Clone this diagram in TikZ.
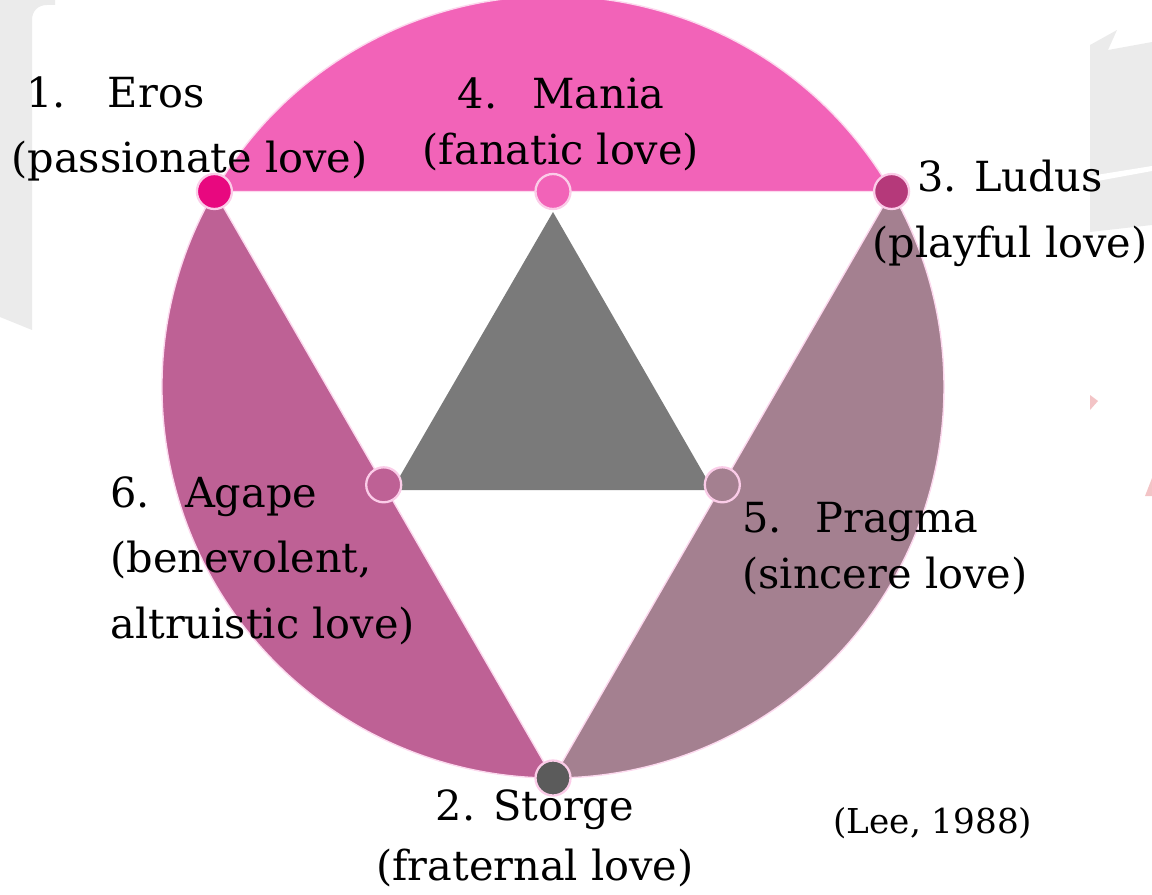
\documentclass[tikz,border=0pt]{standalone}
\usepackage{fontspec}
\setmainfont{DejaVu Serif}
\usepackage{tikz}
\definecolor{topPink}{HTML}{F263B8}
\definecolor{leftPink}{HTML}{BE6195}
\definecolor{rightMauve}{HTML}{A48090}
\definecolor{midGray}{HTML}{7A7A7A}
\definecolor{erosDot}{HTML}{E8087F}
\definecolor{ludusDot}{HTML}{B5397A}
\definecolor{storgeDot}{HTML}{5B5B5B}
\definecolor{decoGray}{HTML}{EBEBEB}
\definecolor{decoPink}{HTML}{F3C4C6}
\tikzstyle{segment}=    [draw=white!85!magenta, line width=0.8pt]
\tikzstyle{dot}=        [circle, draw=white!80!magenta, line width=1.3pt, inner sep=0pt, minimum size=0.7cm]
\tikzstyle{lbl}=        [inner sep=0pt, font=\fontsize{23.6}{37}\selectfont]

\begin{document}
\begin{tikzpicture}[x=0.02cm,y=-0.02cm]
 \useasboundingbox (0,0) rectangle (1152,895);
 \def\R{391}

 % slide decoration behind the figure
 \fill[decoGray] (0,0) -- (55,0) -- (55,5) -- (47,5) .. controls (38,5) and (32,11) .. (32,20) -- (32,330) -- (0,317) -- cycle;
 \fill[decoGray] (1090,45) -- (1117,30) -- (1108,50) -- (1152,42) -- (1152,225) -- (1090,232) -- cycle;
 \fill[white] (1090,176) -- (1152,166) -- (1152,171) -- (1092,182) -- cycle;
 \fill[decoPink] (1090,395) -- (1098,401) -- (1090,410) -- cycle;
 \fill[decoPink] (1152,478) -- (1152,496) -- (1145,496) -- cycle;

 % circle centre and the six points
 \coordinate (O) at (553,387);
 \coordinate (E) at (214.4,191.5);
 \coordinate (L) at (891.6,191.5);
 \coordinate (S) at (553,778);
 \coordinate (M) at (553,191.5);
 \coordinate (A) at (383.7,484.8);
 \coordinate (P) at (722.3,484.8);

 % the three circular segments
 \fill[topPink, segment] (L) arc[start angle=-30, end angle=-150, radius=\R] -- cycle;
 \fill[leftPink, segment] (E) arc[start angle=210, end angle=90, radius=\R] -- cycle;
 \fill[rightMauve, segment] (S) arc[start angle=90, end angle=-30, radius=\R] -- cycle;

 % inner triangle
 \fill[midGray] (553,212) -- (392,490) -- (713,490) -- cycle;

 % points
 \node[dot, fill=erosDot] (eros) at (E) {};
 \node[dot, fill=topPink] (mania) at (M) {};
 \node[dot, fill=ludusDot] (ludus) at (L) {};
 \node[dot, fill=leftPink] (agape) at (A) {};
 \node[dot, fill=rightMauve] (pragma) at (P) {};
 \node[dot, fill=storgeDot] (storge) at (S) {};

 % labels (base = last line)
 \node[lbl, align=left, anchor=base west] (tEros) at (11,173) {\hspace*{8.5pt}1.\hspace{24pt}Eros\\(passionate love)};
 \node[lbl, align=center, anchor=base] (tMania) at (561,165) {4.\hspace{20pt}Mania\\[-4.6pt](fanatic love)};
 \node[lbl, align=center, anchor=base] (tLudus) at (1010,257) {3. Ludus\\(playful love)};
 \node[lbl, align=left, anchor=base west] (tAgape) at (110,638) {6.\hspace{20pt}Agape\\(benevolent,\\altruistic love)};
 \node[lbl, align=left, anchor=base west] (tPragma) at (742,588) {5.\hspace{19pt}Pragma\\[-5.2pt](sincere love)};
 \node[lbl, align=center, anchor=base] (tStorge) at (535,880) {2. Storge\\[-3pt](fraternal love)};
 \node[lbl, font=\fontsize{19.5}{24}\selectfont, anchor=base west] (lee) at (833,833) {(Lee, 1988)};
\end{tikzpicture}
\end{document}
